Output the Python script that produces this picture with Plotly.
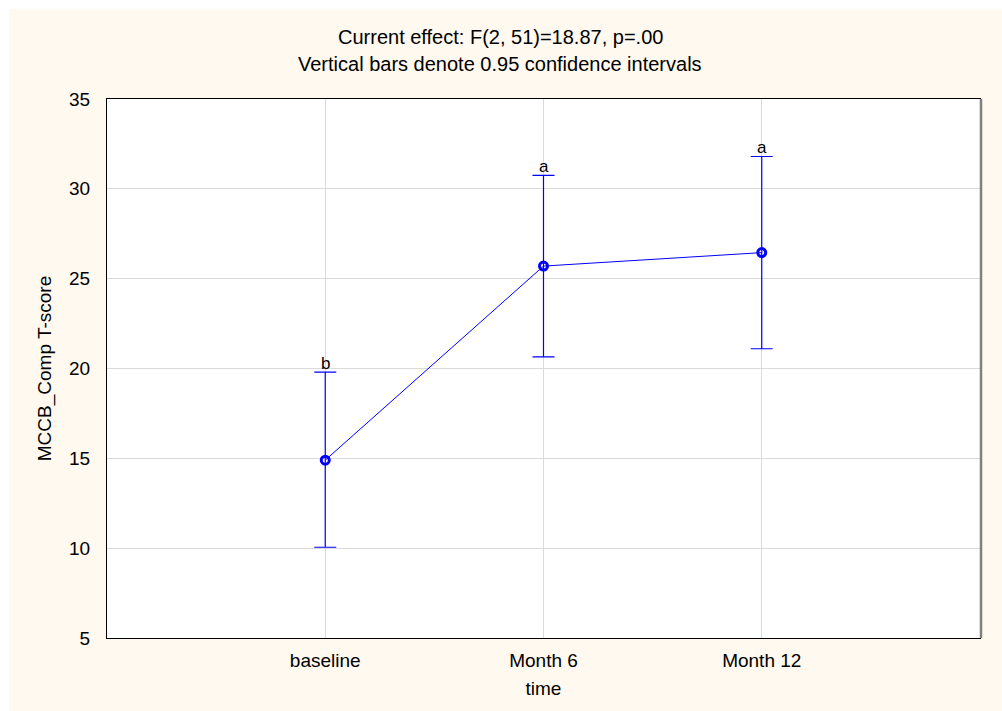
import plotly.graph_objects as go

# Mean MCCB composite T-score at each visit with 95% CI limits
time_points = ["baseline", "Month 6", "Month 12"]
means = [14.9, 25.7, 26.45]
ci_upper = [19.8, 30.75, 31.8]
ci_lower = [10.05, 20.65, 21.1]
group_letters = ["b", "a", "a"]

y_ticks = [5, 10, 15, 20, 25, 30, 35]

BLUE = "#0000FF"
CREAM = "#FFF9EF"
FONT = "Liberation Sans, Arial, sans-serif"

W, H = 1002, 711
L, R, T, B = 107, 22, 99, 73
PW, PH = W - L - R, H - T - B


def px_x(px):
    return (px - L) / PW


def px_y(py):
    return 1 + (T - py) / PH


x_idx = list(range(len(time_points)))
err_plus = [u - m for u, m in zip(ci_upper, means)]
err_minus = [m - l for m, l in zip(means, ci_lower)]

fig = go.Figure()
fig.add_trace(go.Scatter(
    x=x_idx, y=means,
    mode="lines+markers",
    line=dict(color=BLUE, width=1),
    marker=dict(symbol="circle-open", size=8, color=BLUE, line=dict(color=BLUE, width=3)),
    error_y=dict(type="data", symmetric=False, array=err_plus, arrayminus=err_minus,
                 color=BLUE, thickness=1.2, width=11),
    showlegend=False,
))

annotations = []
for xi, up, letter in zip(x_idx, ci_upper, group_letters):
    annotations.append(dict(x=xi, y=up, text=letter, showarrow=False, yanchor="bottom",
                            yshift=-3, font=dict(family=FONT, size=17, color="black")))

annotations.append(dict(xref="paper", yref="paper", x=px_x(500), y=px_y(37),
                        text="Current effect: F(2, 51)=18.87, p=.00", showarrow=False,
                        xanchor="center", yanchor="middle",
                        font=dict(family=FONT, size=20, color="black")))
annotations.append(dict(xref="paper", yref="paper", x=px_x(500), y=px_y(64),
                        text="Vertical bars denote 0.95 confidence intervals", showarrow=False,
                        xanchor="center", yanchor="middle",
                        font=dict(family=FONT, size=20, color="black")))

shapes = [
    # white page strips along top and left edges
    dict(type="rect", xref="paper", yref="paper", x0=px_x(0), x1=px_x(9), y0=px_y(H), y1=px_y(0),
         fillcolor="white", line=dict(width=0), layer="below"),
    dict(type="rect", xref="paper", yref="paper", x0=px_x(0), x1=px_x(W), y0=px_y(9), y1=px_y(0),
         fillcolor="white", line=dict(width=0), layer="below"),
    # shaded right border of the plot frame
    dict(type="line", xref="paper", yref="paper", x0=px_x(981), x1=px_x(981), y0=0, y1=1,
         line=dict(color="#808080", width=2.5)),
]

fig.update_layout(
    width=W, height=H,
    margin=dict(l=L, r=R, t=T, b=B),
    paper_bgcolor=CREAM,
    plot_bgcolor="white",
    font=dict(family=FONT, size=19, color="black"),
    annotations=annotations,
    shapes=shapes,
    xaxis=dict(
        range=[-1, 3], tickvals=x_idx, ticktext=time_points,
        showgrid=True, gridcolor="#DADADA", gridwidth=1, zeroline=False,
        showline=True, linecolor="black", linewidth=1, mirror=True,
        ticks="", ticklabelstandoff=5,
        tickfont=dict(family=FONT, size=19, color="black"),
        title=dict(text="time", standoff=11, font=dict(family=FONT, size=19, color="black")),
    ),
    yaxis=dict(
        range=[5, 35], tickvals=y_ticks,
        showgrid=True, gridcolor="#DADADA", gridwidth=1, zeroline=False,
        showline=True, linecolor="black", linewidth=1, mirror=True,
        ticks="", ticklabelstandoff=12,
        tickfont=dict(family=FONT, size=19, color="black"),
        title=dict(text="MCCB_Comp T-score", standoff=12, font=dict(family=FONT, size=19, color="black")),
    ),
)

fig.write_html("out.html")
